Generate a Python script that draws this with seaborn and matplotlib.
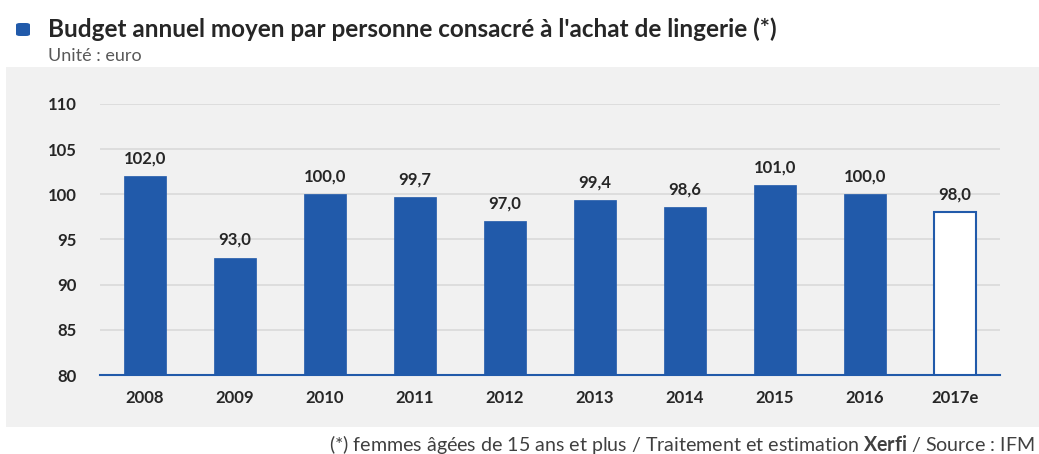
import matplotlib
matplotlib.use("Agg")
import matplotlib.pyplot as plt
from matplotlib.patches import Rectangle, FancyBboxPatch
import seaborn as sns
import pandas as pd

# data
years = ["2008", "2009", "2010", "2011", "2012", "2013", "2014", "2015", "2016", "2017e"]
budget = [102.0, 93.0, 100.0, 99.7, 97.0, 99.4, 98.6, 101.0, 100.0, 98.0]
yticks = [80, 85, 90, 95, 100, 105, 110]

blue = "#215AAA"
panel = "#F1F1F1"
dark = "#262626"

sns.set_theme(style="white")
plt.rcParams['font.family'] = ['Lato', 'DejaVu Sans']
plt.rcParams['mathtext.fontset'] = 'custom'
plt.rcParams['mathtext.rm'] = 'Lato'
plt.rcParams['mathtext.bf'] = 'Lato:bold'

df = pd.DataFrame({"annee": years, "budget": budget})

fig = plt.figure(figsize=(10.39, 4.54), dpi=100)
fig.patch.set_facecolor("white")

# grey panel behind the chart
fig.patches.append(Rectangle((6 / 1039, 1 - 427 / 454), (1039 - 6) / 1039, (427 - 67) / 454,
                             transform=fig.transFigure, facecolor=panel, edgecolor="none", zorder=-5))

ax = fig.add_axes([100 / 1039, 1 - 375 / 454, 900 / 1039, (375 - 104) / 454])
ax.set_facecolor(panel)
ax.patch.set_alpha(0)

sns.barplot(data=df, x="annee", y="budget", color=blue, width=0.46, saturation=1,
            edgecolor=blue, linewidth=0.5, ax=ax, zorder=3)

# estimate bar: white with blue outline
last = ax.patches[-1]
last.set_facecolor("white")
last.set_edgecolor(blue)
last.set_linewidth(1.5)

ax.set_ylim(80, 110)
ax.set_yticks(yticks)
ax.yaxis.grid(True, color="#D9D9D9", linewidth=1.2, zorder=0)
ax.set_axisbelow(True)
for s in ["top", "right", "left"]:
    ax.spines[s].set_visible(False)
ax.spines["bottom"].set_color(blue)
ax.spines["bottom"].set_linewidth(1.5)
ax.spines["bottom"].set_zorder(4)
ax.set_xlabel("")
ax.set_ylabel("")
ax.tick_params(axis="both", length=0, labelsize=12, colors=dark)
ax.tick_params(axis="y", pad=17)
ax.tick_params(axis="x", pad=11)
for t in ax.get_xticklabels() + ax.get_yticklabels():
    t.set_fontweight("bold")

labels = [f"{v:.1f}".replace(".", ",") for v in budget]
ax.bar_label(ax.containers[0], labels=labels, padding=7, fontsize=12, fontweight="bold", color=dark)

# title block
fig.patches.append(FancyBboxPatch((16 / 1039, 1 - 36 / 454), 14 / 1039, 13 / 454,
                                  boxstyle="round,pad=0,rounding_size=0.004",
                                  transform=fig.transFigure, facecolor=blue, edgecolor="none"))
fig.text(48 / 1039, 1 - 29 / 454, "Budget annuel moyen par personne consacré à l'achat de lingerie (*)",
         fontsize=17.5, fontweight="bold", color=dark, va="center", ha="left")
fig.text(48 / 1039, 1 - 56 / 454, "Unité : euro", fontsize=13, color="#595959", va="center", ha="left")

# footer
fig.text(1035 / 1039, 1 - 444 / 454,
         "(*) femmes âgées de 15 ans et plus / Traitement et estimation $\\bf{Xerfi}$ / Source : IFM",
         fontsize=14.1, color="#404040", va="center", ha="right")

fig.savefig("out.png", dpi=100, facecolor="white")
